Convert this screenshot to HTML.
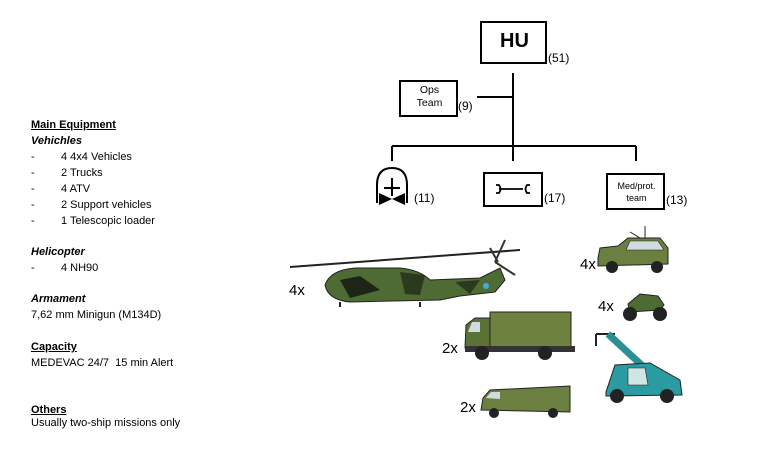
<!DOCTYPE html>
<html><head><style>
body{margin:0;width:764px;height:455px;background:#fff;position:relative;font-family:"Liberation Sans",sans-serif;overflow:hidden}
.t{position:absolute;font-size:11px;color:#000;white-space:nowrap}
.b{font-weight:bold;text-decoration:underline}
.i{font-weight:bold;font-style:italic}
.n{position:absolute;font-size:12px}
.x{position:absolute;font-size:15px}
</style></head><body>
<div class="t b" style="left:31px;top:119px">Main Equipment</div>
<div class="t i" style="left:31px;top:135px">Vehichles</div>
<div class="t" style="left:31px;top:151px">-&nbsp;</div><div class="t" style="left:61px;top:151px">4 4x4 Vehicles</div>
<div class="t" style="left:31px;top:167px">-</div><div class="t" style="left:61px;top:167px">2 Trucks</div>
<div class="t" style="left:31px;top:183px">-</div><div class="t" style="left:61px;top:183px">4 ATV</div>
<div class="t" style="left:31px;top:199px">-</div><div class="t" style="left:61px;top:199px">2 Support vehicles</div>
<div class="t" style="left:31px;top:215px">-</div><div class="t" style="left:61px;top:215px">1 Telescopic loader</div>
<div class="t i" style="left:31px;top:246px">Helicopter</div>
<div class="t" style="left:31px;top:262px">-</div><div class="t" style="left:61px;top:262px">4 NH90</div>
<div class="t i" style="left:31px;top:293px">Armament</div>
<div class="t" style="left:31px;top:309px">7,62 mm Minigun (M134D)</div>
<div class="t b" style="left:31px;top:341px">Capacity</div>
<div class="t" style="left:31px;top:357px">MEDEVAC 24/7&nbsp; 15 min Alert</div>
<div class="t b" style="left:31px;top:404px">Others</div>
<div class="t" style="left:31px;top:417px">Usually two-ship missions only</div>

<svg width="764" height="455" style="position:absolute;left:0;top:0">
<g stroke="#000" stroke-width="2" fill="#fff">
<rect x="481" y="22" width="65" height="41"/>
<rect x="400" y="81" width="57" height="35"/>
<rect x="484" y="173" width="58" height="33"/>
<rect x="607" y="174" width="57" height="35"/>
<path d="M513 73V146M477 97H513M392 146H636M392 146V161M513 146V161M636 146V161" fill="none"/>
<path d="M377 203V185Q377 168 392 168Q407 168 407 185V203" fill="none"/>
<path d="M392 178V196M384 188H400" fill="none"/>
<path d="M496 185H499Q502 189 499 193H496M499 189H523M530 185H527Q524 189 527 193H530" fill="none" stroke-width="1.8"/>
</g>
<path d="M379 193L392 199L379 205ZM405 193L392 199L405 205Z" fill="#000"/>
<g>
<path d="M290 267L520 250" stroke="#222" stroke-width="2"/>
<path d="M325 285Q330 270 355 268L400 268Q420 270 430 280L480 278L500 268L505 280L495 292L460 296L440 300L350 302Q328 300 325 285Z" fill="#4e6b33" stroke="#222"/>
<path d="M340 280L360 276L380 290L350 298Z" fill="#1d2616"/>
<path d="M400 272L425 275L420 295L405 294Z" fill="#2b3a1f"/>
<path d="M455 282L480 280L470 294Z" fill="#2b3a1f"/>
<path d="M495 262L505 240M495 262L515 275M498 262L490 248" stroke="#333" stroke-width="2"/>
<circle cx="486" cy="286" r="3" fill="#4aa6e0"/>
<path d="M340 302V307M420 302V307" stroke="#222" stroke-width="2"/>
</g>
<g>
<path d="M598 258L600 248L618 246L628 238L660 238L668 248L668 264L598 266Z" fill="#6b8040" stroke="#222"/>
<path d="M630 241L658 241L664 250L626 250Z" fill="#cfdbe0" stroke="#222" stroke-width=".6"/>
<circle cx="612" cy="267" r="6" fill="#222"/><circle cx="657" cy="267" r="6" fill="#222"/>
<path d="M645 238V226M640 238L630 232" stroke="#222"/>
</g>
<g>
<path d="M628 304L640 294L658 296L664 305L660 310L630 312Z" fill="#4e6b33" stroke="#222"/>
<circle cx="630" cy="314" r="7" fill="#222"/><circle cx="660" cy="314" r="7" fill="#222"/>
</g>
<g>
<rect x="490" y="312" width="81" height="36" fill="#6e8240" stroke="#222"/>
<path d="M465 348L466 325L475 318L490 318L490 350Z" fill="#5a7236" stroke="#222"/>
<path d="M468 332L472 322L480 322L480 332Z" fill="#cfdbe0"/>
<rect x="465" y="346" width="110" height="6" fill="#333"/>
<circle cx="482" cy="353" r="7" fill="#222"/><circle cx="545" cy="353" r="7" fill="#222"/>
</g>
<g>
<path d="M596 334L615 334M596 334V346" stroke="#222" stroke-width="2" fill="none"/>
<path d="M608 334L660 382" stroke="#2c8f94" stroke-width="7"/>
<path d="M606 392L615 365L650 363L680 380L682 395L606 396Z" fill="#2a9ba0" stroke="#222"/>
<path d="M628 368L645 368L648 385L628 385Z" fill="#cfe6e4" stroke="#222" stroke-width=".6"/>
<circle cx="617" cy="396" r="7" fill="#222"/><circle cx="667" cy="396" r="7" fill="#222"/>
</g>
<g>
<path d="M481 410L483 398L490 390L570 386L570 412Z" fill="#6b8040" stroke="#222"/>
<path d="M486 398L491 392L500 392L500 399Z" fill="#cfdbe0"/>
<circle cx="494" cy="413" r="5" fill="#222"/><circle cx="553" cy="413" r="5" fill="#222"/>
</g>
</svg>
<div style="position:absolute;left:481px;top:30px;width:67px;text-align:center;font-size:20px;font-weight:bold">HU</div>
<div class="n" style="left:548px;top:51px">(51)</div>
<div style="position:absolute;left:400px;top:84px;width:59px;text-align:center;font-size:10.5px;line-height:13px">Ops<br>Team</div>
<div class="n" style="left:458px;top:99px">(9)</div>
<div class="n" style="left:414px;top:191px">(11)</div>
<div class="n" style="left:544px;top:191px">(17)</div>
<div style="position:absolute;left:607px;top:180px;width:59px;text-align:center;font-size:9px;line-height:12px">Med/prot.<br>team</div>
<div class="n" style="left:666px;top:193px">(13)</div>
<div class="x" style="left:289px;top:282px">4x</div>
<div class="x" style="left:580px;top:256px">4x</div>
<div class="x" style="left:598px;top:298px">4x</div>
<div class="x" style="left:442px;top:340px">2x</div>
<div class="x" style="left:460px;top:399px">2x</div>
</body></html>
